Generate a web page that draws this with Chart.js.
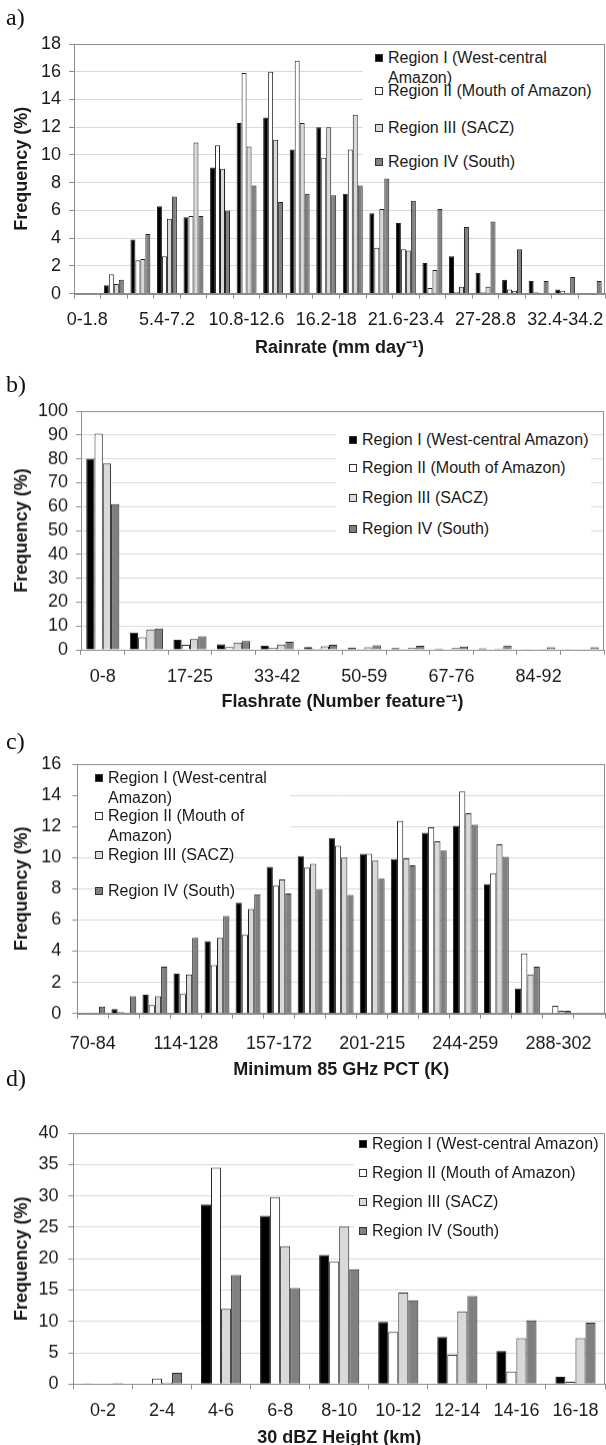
<!DOCTYPE html>
<html>
<head>
<meta charset="utf-8">
<title>Frequency distributions by region</title>
<script src="https://cdn.jsdelivr.net/npm/chart.js@4.4.1/dist/chart.umd.min.js"></script>
<style>
  html, body { margin: 0; padding: 0; background: #fff; }
  body { width: 606px; height: 1445px; overflow: hidden; position: relative; }
  .panel { position: absolute; left: 0; width: 612px; }
  .tag { position: absolute; left: 6px; font: 24px/28px "Liberation Serif", "Times New Roman", serif; color: #111; }
  .legend-bg { position: absolute; background: #fff; }
  .item { position: absolute; display: flex; align-items: flex-start;
          font: 16px/20px "Liberation Sans", Arial, sans-serif; color: #1a1a1a; }
  .item.solid { background: #fff; }
  .item i { flex: none; box-sizing: border-box; width: 8px; height: 8px; border: 1px solid #333; margin: 6px 5px 0 0; }
</style>
</head>
<body>
<script>
const regions = ['Region I (West-central Amazon)', 'Region II (Mouth of Amazon)', 'Region III (SACZ)', 'Region IV (South)'];
const fills = ['#000000', '#ffffff', '#d9d9d9', '#808080'];

// a) rain rate (mm/day)
const rainBins = ['0-1.8', '1.8-3.6', '3.6-5.4', '5.4-7.2', '7.2-9', '9-10.8', '10.8-12.6', '12.6-14.4', '14.4-16.2', '16.2-18',
  '18-19.8', '19.8-21.6', '21.6-23.4', '23.4-25.2', '25.2-27', '27-28.8', '28.8-30.6', '30.6-32.4', '32.4-34.2', '34.2-36'];
const rainI   = [0, 0.6, 3.9, 6.3, 5.5, 9.1, 12.3, 12.7, 10.4, 12.0, 7.2, 5.8, 5.1, 2.2, 2.7, 1.5, 1.0, 0.9, 0.3, 0];
const rainII  = [0, 1.4, 2.4, 2.7, 5.6, 10.7, 15.9, 16.0, 16.8, 9.8, 10.4, 3.3, 3.2, 0.4, 0.1, 0.1, 0.3, 0.1, 0.2, 0];
const rainIII = [0, 0.7, 2.5, 5.4, 10.9, 9.0, 10.6, 11.1, 12.3, 12.0, 12.9, 6.1, 3.1, 1.7, 0.5, 0.5, 0.2, 0, 0, 0];
const rainIV  = [0, 1.0, 4.3, 7.0, 5.6, 6.0, 7.8, 6.6, 7.2, 7.1, 7.8, 8.3, 6.7, 6.1, 4.8, 5.2, 3.2, 0.9, 1.2, 0.9];

// b) flash rate
const flashBins = ['0-8', '8-17', '17-25', '25-33', '33-42', '42-50', '50-59', '59-67', '67-76', '76-84', '84-92', '92-101'];
const flashI   = [80, 7.3, 4.2, 2.3, 1.7, 1.2, 0.9, 0.7, 0.5, 0.6, 0.3, 0.3];
const flashII  = [90.5, 5.2, 2.1, 1.2, 0.7, 0.4, 0.3, 0.3, 0.2, 0.2, 0.2, 0.2];
const flashIII = [78, 8.5, 4.5, 3.0, 2.2, 1.5, 1.1, 0.7, 0.7, 0.5, 0.3, 0.3];
const flashIV  = [61, 8.9, 5.7, 3.7, 3.4, 2.1, 1.9, 1.7, 1.4, 1.8, 1.1, 1.0];

// c) minimum 85 GHz PCT (K)
const pctBins = ['70-84', '85-99', '99-114', '114-128', '128-143', '143-157', '157-172', '172-186', '186-201', '201-215',
  '215-230', '230-244', '244-259', '259-273', '273-288', '288-302', '302-317'];
const pctI   = [0.04, 0.28, 1.2, 2.55, 4.65, 7.1, 9.4, 10.1, 11.25, 10.25, 9.9, 11.6, 12.05, 8.3, 1.6, 0.03, 0];
const pctII  = [0.02, 0.1, 0.55, 1.25, 3.1, 5.05, 8.2, 9.35, 10.75, 10.25, 12.35, 11.95, 14.25, 9.0, 3.85, 0.5, 0];
const pctIII = [0, 0.05, 1.1, 2.5, 4.85, 6.7, 8.6, 9.6, 10.0, 9.8, 9.95, 11.05, 12.85, 10.85, 2.5, 0.17, 0];
const pctIV  = [0.45, 1.1, 3.0, 4.85, 6.25, 7.65, 7.7, 7.95, 7.6, 8.65, 9.5, 10.45, 12.1, 10.05, 3.0, 0.17, 0];

// d) 30 dBZ height (km)
const heightBins = ['0-2', '2-4', '4-6', '6-8', '8-10', '10-12', '12-14', '14-16', '16-18'];
const heightI   = [0.05, 0.1, 28.6, 26.8, 20.6, 9.9, 7.5, 5.3, 1.15];
const heightII  = [0.1, 0.9, 34.5, 29.8, 19.5, 8.3, 4.7, 2.0, 0.35];
const heightIII = [0.1, 0.25, 12.0, 22.0, 25.1, 14.6, 11.6, 7.3, 7.3];
const heightIV  = [0.15, 1.8, 17.4, 15.3, 18.3, 13.35, 14.05, 10.15, 9.8];

const FONT = '"Liberation Sans", Arial, sans-serif';
const PAD_TOP = 24;   // must exceed half a tick label plus tick padding, or Chart.js pushes the plot down
const LH = 18 * 1.2;

const panels = [
  { tag: 'a)', tagY: 17, bins: rainBins, series: [rainI, rainII, rainIII, rainIV], yMax: 18, yStep: 2, every: 3, cat: 0.75,
    xTitle: 'Rainrate (mm day\u207B\u00B9)', plot: { left: 74, right: 605, top: 43.7, bottom: 293.3 }, labelY: 320, titleY: 348, yPad: 8,
    legend: { x: 388, width: 214, solid: [], rows: [58, 91, 128, 162], bg: [363, 46, 604, 176] } },
  { tag: 'b)', tagY: 384, bins: flashBins, series: [flashI, flashII, flashIII, flashIV], yMax: 100, yStep: 10, every: 2, cat: 0.76,
    xTitle: 'Flashrate (Number feature\u207B\u00B9)', plot: { left: 81, right: 604, top: 411, bottom: 649 }, labelY: 676, titleY: 701, yPad: 8,
    legend: { x: 362, width: null, solid: [], rows: [440, 468, 498, 529], bg: [336, 422, 591, 545] } },
  { tag: 'c)', tagY: 741, bins: pctBins, series: [pctI, pctII, pctIII, pctIV], yMax: 16, yStep: 2, every: 3, cat: 0.8,
    xTitle: 'Minimum 85 GHz PCT (K)', plot: { left: 77.3, right: 605, top: 764, bottom: 1012.7 }, labelY: 1043, titleY: 1069, yPad: 11,
    legend: { x: 108, width: 165, solid: [2, 3], rows: [778, 816, 855, 891], bg: [78, 766, 290, 846] } },
  { tag: 'd)', tagY: 1078, bins: heightBins, series: [heightI, heightII, heightIII, heightIV], yMax: 40, yStep: 5, every: 1, cat: 0.68,
    xTitle: '30 dBZ Height (km)', plot: { left: 73.4, right: 605, top: 1133, bottom: 1383.3 }, labelY: 1410, titleY: 1437, yPad: 10,
    legend: { x: 372, width: null, solid: [], rows: [1144, 1173, 1202, 1231], bg: [354, 1136, 604, 1248] } }
];

// grey box round the plot area, as in the spreadsheet original
const frame = {
  id: 'frame',
  beforeDatasetsDraw(chart) {
    const { ctx, chartArea: a } = chart;
    ctx.save();
    ctx.strokeStyle = '#8c8c8c';
    ctx.lineWidth = 1;
    ctx.strokeRect(Math.round(a.left) + 0.5, Math.round(a.top) + 0.5, Math.round(a.right - a.left) - 1, Math.round(a.bottom - a.top));
    ctx.restore();
  }
};

panels.forEach(p => {
  const top = p.plot.top - PAD_TOP;
  const bottom = p.titleY + LH / 2 + 2;

  const wrap = document.createElement('div');
  wrap.className = 'panel';
  wrap.style.top = top + 'px';
  wrap.style.height = (bottom - top) + 'px';
  const canvas = document.createElement('canvas');
  wrap.appendChild(canvas);
  document.body.appendChild(wrap);

  new Chart(canvas, {
    type: 'bar',
    data: {
      labels: p.bins,
      datasets: p.series.map((d, i) => ({
        label: regions[i], data: d, backgroundColor: fills[i], borderColor: '#222', borderWidth: 1,
        barPercentage: 1, categoryPercentage: p.cat
      }))
    },
    options: {
      responsive: true, maintainAspectRatio: false, animation: false,
      layout: { padding: { top: PAD_TOP, left: 0, right: 612 - p.plot.right, bottom: 0 } },
      plugins: { legend: { display: false }, tooltip: { enabled: false } },
      scales: {
        x: {
          grid: { offset: true, drawOnChartArea: false, tickLength: 5, color: '#8c8c8c' },
          border: { color: '#8c8c8c' },
          ticks: {
            autoSkip: false, maxRotation: 0, color: '#1a1a1a', font: { family: FONT, size: 18 },
            padding: p.labelY - p.plot.bottom - 5 - LH / 2,
            callback(v, i) { return i % p.every === 0 ? this.getLabelForValue(v) : ''; }
          },
          title: { display: true, text: p.xTitle, color: '#1a1a1a', font: { family: FONT, size: 18, weight: 'bold' }, padding: { top: 0, bottom: 2 } },
          afterFit(s) { s.height = bottom - p.plot.bottom; }
        },
        y: {
          min: 0, max: p.yMax,
          grid: { color: '#d9d9d9', tickColor: '#8c8c8c', tickLength: 5 },
          border: { color: '#8c8c8c' },
          ticks: { stepSize: p.yStep, autoSkip: false, padding: p.yPad, color: '#1a1a1a', font: { family: FONT, size: 18 } },
          title: { display: true, text: 'Frequency (%)', color: '#1a1a1a', font: { family: FONT, size: 18, weight: 'bold' }, padding: { top: 11, bottom: 0 } },
          afterFit(s) { s.width = p.plot.left; }
        }
      }
    },
    plugins: [frame]
  });

  const tag = document.createElement('div');
  tag.className = 'tag';
  tag.style.top = (p.tagY - 14) + 'px';
  tag.textContent = p.tag;
  document.body.appendChild(tag);

  const lg = p.legend;
  const bg = document.createElement('div');
  bg.className = 'legend-bg';
  Object.assign(bg.style, { left: lg.bg[0] + 'px', top: lg.bg[1] + 'px', width: (lg.bg[2] - lg.bg[0]) + 'px', height: (lg.bg[3] - lg.bg[1]) + 'px' });
  document.body.appendChild(bg);

  regions.forEach((name, i) => {
    const item = document.createElement('div');
    item.className = lg.solid.includes(i) ? 'item solid' : 'item';
    item.style.left = (lg.x - 13) + 'px';
    item.style.top = (lg.rows[i] - 10) + 'px';
    const box = document.createElement('i');
    box.style.background = fills[i];
    const txt = document.createElement('span');
    txt.textContent = name;
    if (lg.width) txt.style.maxWidth = lg.width + 'px'; else txt.style.whiteSpace = 'nowrap';
    item.appendChild(box);
    item.appendChild(txt);
    document.body.appendChild(item);
  });
});
</script>
</body>
</html>
